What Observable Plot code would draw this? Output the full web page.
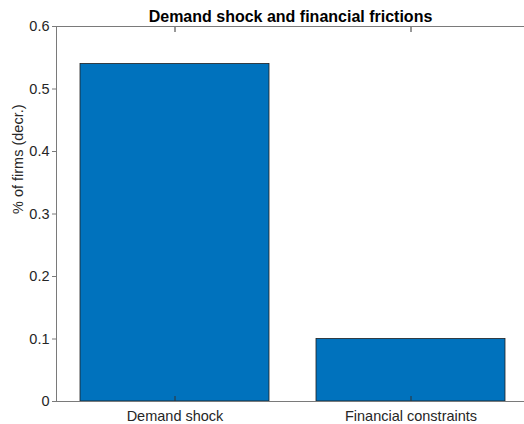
<!DOCTYPE html>
<html>
<head>
<meta charset="utf-8">
<script src="https://cdn.jsdelivr.net/npm/d3@7"></script>
<script src="https://cdn.jsdelivr.net/npm/@observablehq/plot@0.6"></script>
<style>
  html, body { margin: 0; padding: 0; background: #fff; overflow: hidden; }
  #chart svg { overflow: hidden; }
</style>
</head>
<body>
<div id="chart"></div>
<script>
const title = "Demand shock and financial frictions";
const yLabel = "% of firms (decr.)";
const categories = ["Demand shock", "Financial constraints"];
const values = [0.54, 0.10];
const yTicks = [0, 0.1, 0.2, 0.3, 0.4, 0.5, 0.6];

const data = categories.map((c, i) => ({cat: c, value: values[i]}));
const textColor = "#262626";
const axisColor = "#7a7a7a";

const chart = Plot.plot({
  width: 524,
  height: 424,
  marginTop: 26,
  marginBottom: 23,
  marginLeft: 56,
  marginRight: 0,
  style: {fontFamily: "Arial, 'Liberation Sans', Helvetica, sans-serif", fontSize: "14.5px", color: textColor, background: "#fff"},
  x: {domain: categories, range: [56, 528], paddingInner: 0.2, paddingOuter: 0.1, label: null},
  y: {domain: [0, 0.6], label: null},
  marks: [
    Plot.barY(data, {x: "cat", y: "value", fill: "#0072BD", stroke: "#1f1f1f", strokeWidth: 0.8}),
    Plot.frame({anchor: "left", stroke: axisColor}),
    Plot.ruleY([0.6], {stroke: axisColor, strokeWidth: 1}),
    Plot.ruleY([0], {stroke: axisColor, strokeWidth: 1}),
    Plot.axisY({ticks: yTicks, tickSize: 4, tickPadding: 3, stroke: axisColor, color: textColor, label: null, fontSize: 14.5, tickFormat: d => String(d)}),
    Plot.axisX({anchor: "bottom", tickSize: -5, text: null, stroke: "#333", label: null}),
    Plot.axisX({anchor: "top", tickSize: -5, text: null, stroke: "#333", label: null}),
    Plot.axisX({anchor: "bottom", tickSize: 0, tickPadding: 9, label: null, fontSize: 14.5, color: textColor}),
    Plot.text([yLabel], {frameAnchor: "left", dx: -38, rotate: -90, fontSize: 14.5, fill: textColor}),
    Plot.text([title], {frameAnchor: "top", dy: -16, fontWeight: "bold", fontSize: 16, fill: "#000"})
  ]
});
document.getElementById("chart").appendChild(chart);
</script>
</body>
</html>
